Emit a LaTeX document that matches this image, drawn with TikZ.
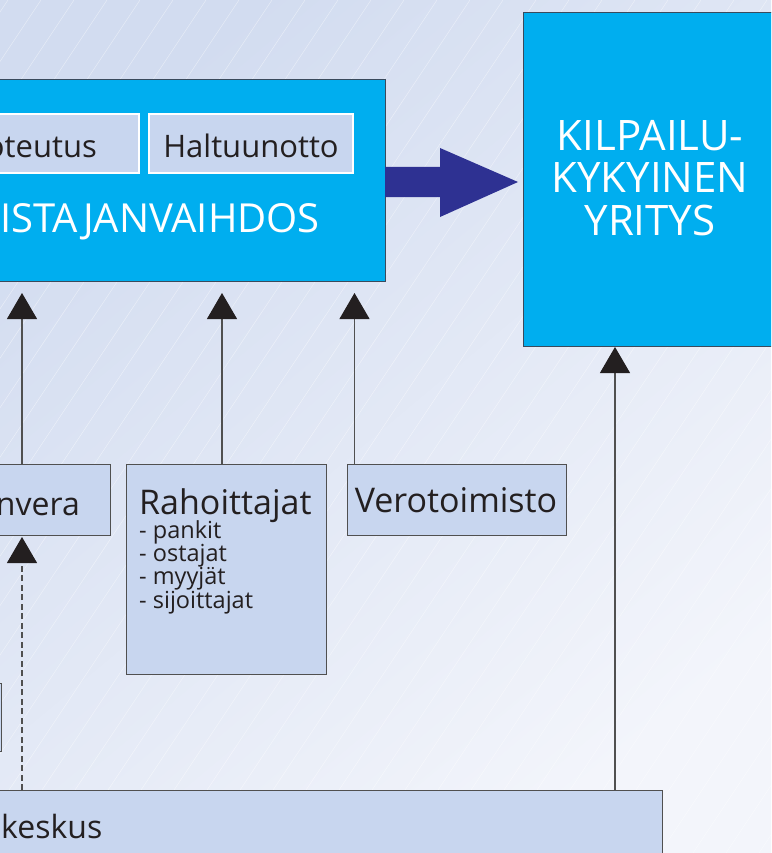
\documentclass[tikz,border=0pt]{standalone}
\usepackage{fontspec}
\setmainfont{Open Sans}
\usetikzlibrary{arrows.meta,calc}
\definecolor{cyanbox}{HTML}{00AEEF}
\definecolor{lightbox}{HTML}{C8D6EF}
\definecolor{navyarrow}{HTML}{2E3192}
\definecolor{bgA}{HTML}{D2DCF0}
\definecolor{bgB}{HTML}{F3F5FB}
\definecolor{ink}{HTML}{231F20}
\definecolor{edge}{HTML}{505050}
\definecolor{mainedge}{HTML}{3A4A5C}
\tikzset{
  rectbox/.style 2 args={minimum width=#1pt,minimum height=#2pt,inner sep=0pt,outer sep=0pt,anchor=north west},
  bluebox/.style={fill=cyanbox,draw=mainedge,line width=0.9pt},
  innerbox/.style={fill=lightbox,draw=white,line width=2pt},
  paleblock/.style={fill=lightbox,draw=edge,line width=0.9pt},
  bigtxt/.style={text=white,font=\fontsize{42}{42.5}\selectfont,inner sep=0pt},
  midtxt/.style={text=ink,font=\fontsize{32}{34}\selectfont,inner sep=0pt},
  subtxt/.style={text=ink,font=\fontsize{23.5}{23.3}\selectfont,inner sep=0pt},
  conn/.style={draw=edge,line width=1.1pt,-{Triangle[width=30pt,length=26pt,color=ink]}},
  dconn/.style={conn,dash pattern=on 6pt off 3.5pt}
}
\begin{document}
\begin{tikzpicture}[x=1pt,y=-1pt]
\useasboundingbox (0,0) rectangle (771,853);
\clip (0,0) rectangle (771,853);
% background
\shade[top color=bgA,bottom color=bgB,shading angle=40] (0,0) rectangle (771,853);
\foreach \i in {-20,...,24}
  \draw[white,opacity=0.45,line width=0.5pt] (\i*33,853) -- ++(569,-853);

% coordinates for vertical connectors
\coordinate (c1) at (22,0);
\coordinate (c2) at (222,0);
\coordinate (c3) at (354.5,0);
\coordinate (c4) at (615,0);

% main blue box
\node[bluebox,rectbox={395}{202}] (main) at (-10,79) {};
\node[innerbox,rectbox={149}{59}] (tot) at (-10,114) {};
\node[innerbox,rectbox={204}{59}] (hal) at (149,114) {};
\node[midtxt,anchor=base east,font=\fontsize{31}{33}\selectfont] (tott) at (97,158) {Toteutus};
\node[midtxt,anchor=base,font=\fontsize{31}{33}\selectfont] (halt) at (251,158) {Haltuunotto};
\node[bigtxt,anchor=base east,font=\fontsize{40}{42}\selectfont] (maint) at (320,232) {OMISTAJANVAIHDOS};

% right blue box
\node[bluebox,rectbox={260}{334}] (kil) at (523,12) {};
\node[bigtxt,align=center] (kilt) at (650,178) {KILPAILU-\\KYKYINEN\\YRITYS};

% big arrow
\fill[navyarrow] ($(main.east)+(0,-13)$) -- ++(55,0) -- ++(0,-19) -- ($(kil.west)+(-5,3)$)
  -- ($(main.east)+(55,37)$) -- ++(0,-20) -- ($(main.east)+(0,17)$) -- cycle;

% lower boxes
\node[paleblock,rectbox={120.7}{71}] (fin) at (-10,464) {};
\node[midtxt,anchor=base east] (fint) at (80,515) {Finnvera};
\node[paleblock,rectbox={200.7}{210}] (rah) at (126,464) {};
\node[midtxt,anchor=base west,font=\fontsize{34}{36}\selectfont] (raht) at (139,514) {Rahoittajat};
\node[subtxt,anchor=base west,align=left] (rahs) at (139,608) {- pankit\\- ostajat\\- myyjät\\- sijoittajat};
\node[paleblock,rectbox={219}{71}] (vero) at (347.7,464) {};
\node[midtxt,anchor=base,font=\fontsize{34}{36}\selectfont] (verot) at (456,512) {Verotoimisto};
\node[paleblock,rectbox={21}{68}] (small) at (-20,683) {};
\node[paleblock,rectbox={672.6}{80}] (bot) at (-10,790) {};
\node[midtxt,anchor=base west] (bott) at (1,838) {keskus};

% connectors
\draw[conn,shorten >=12pt] (fin.north -| c1) -- (main.south -| c1);
\draw[conn,shorten >=12pt] (rah.north -| c2) -- (main.south -| c2);
\draw[conn,shorten >=12pt] (vero.north -| c3) -- (main.south -| c3);
\draw[conn,shorten >=1pt] (bot.north -| c4) -- (kil.south -| c4);
\draw[dconn,shorten >=2pt] (bot.north -| c1) -- (fin.south -| c1);
\end{tikzpicture}
\end{document}
